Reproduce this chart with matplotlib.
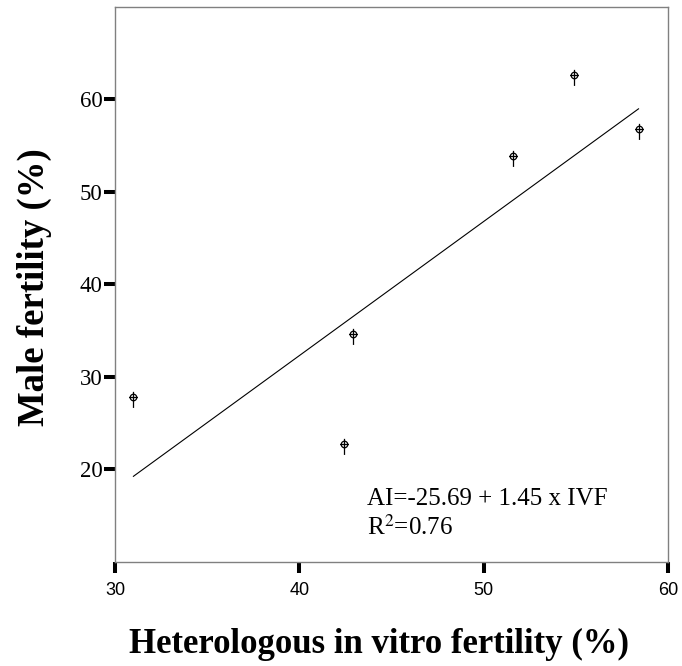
import matplotlib.pyplot as plt
from matplotlib.path import Path

plt.rcParams['mathtext.fontset'] = 'stix'

# data
ivf = [31.0, 42.4, 42.9, 51.6, 54.9, 58.4]
male = [27.8, 22.8, 34.7, 53.9, 62.7, 56.8]

# fit from the annotation
intercept = -25.69
slope = 1.45

xticks = [30, 40, 50, 60]
yticks = [20, 30, 40, 50, 60]

# spss style marker: small circle with a cross and a stem going down
verts = [(-1, 0), (1, 0), (0, 1.3), (0, -2.4)]
codes = [Path.MOVETO, Path.LINETO, Path.MOVETO, Path.LINETO]
circ = Path.circle((0, 0), 0.75)
marker = Path.make_compound_path(Path(verts, codes), circ)

fig = plt.figure(figsize=(6.82, 6.66), dpi=100)
ax = fig.add_axes([0.1686, 0.1562, 0.8109, 0.8333])

ax.plot(ivf, male, linestyle='none', marker=marker, markersize=15,
        markerfacecolor='none', markeredgecolor='black', markeredgewidth=0.9)

x0, x1 = min(ivf), max(ivf)
ax.plot([x0, x1], [intercept + slope * x0, intercept + slope * x1],
        color='black', lw=0.8)

ax.set_xlim(30, 60)
ax.set_ylim(10, 70)
ax.set_xticks(xticks)
ax.set_yticks(yticks)
ax.set_xticklabels([str(t) for t in xticks], family='Liberation Sans', fontsize=13)
ax.set_yticklabels([str(t) for t in yticks], family='Liberation Serif', fontsize=16.5)
ax.tick_params(axis='both', direction='out', length=8, width=2.9, color='black')
ax.tick_params(axis='x', pad=6.5)
ax.tick_params(axis='y', pad=1)

for s in ax.spines.values():
    s.set_color('#808080')
    s.set_linewidth(1)

ax.set_xlabel('Heterologous in vitro fertility (%)', family='Liberation Serif',
              fontsize=25, fontweight='bold', labelpad=20)
ax.xaxis.set_label_coords(0.478, -0.118)
ax.set_ylabel('Male fertility (%)', family='Liberation Serif',
              fontsize=26.5, fontweight='bold')
ax.yaxis.set_label_coords(-0.114, 0.496)

ax.text(0.455, 0.1027, 'AI=-25.69 + 1.45 x IVF', transform=ax.transAxes,
        family='Liberation Serif', fontsize=18, ha='left', va='baseline')
ax.text(0.455, 0.0486, 'R$^2$=0.76', transform=ax.transAxes,
        family='Liberation Serif', fontsize=18, ha='left', va='baseline')

fig.savefig('out.png', dpi=100)
